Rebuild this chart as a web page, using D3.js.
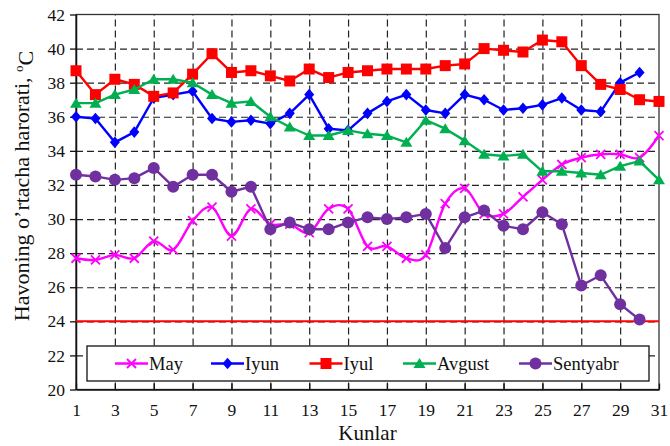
<!DOCTYPE html>
<html>
<head>
<meta charset="utf-8">
<script src="https://cdn.jsdelivr.net/npm/d3@7"></script>
<style>
  body { margin: 0; background: #fff; }
  svg { display: block; font-family: "Liberation Serif", "DejaVu Serif", serif; }
</style>
</head>
<body>
<svg id="chart" width="670" height="446"></svg>
<script>
// Daily mean air temperature by month (°C), day of month 1..31
const xTicks = [1, 3, 5, 7, 9, 11, 13, 15, 17, 19, 21, 23, 25, 27, 29, 31];
const yTicks = [20, 22, 24, 26, 28, 30, 32, 34, 36, 38, 40, 42];

const may = [27.7, 27.6, 27.9, 27.7, 28.7, 28.2, 29.9, 30.7, 29.0, 30.6,
             29.7, 29.7, 29.2, 30.6, 30.6, 28.4, 28.4, 27.7, 27.9, 30.9,
             31.8, 30.3, 30.3, 31.3, 32.3, 33.2, 33.6, 33.8, 33.8, 33.6, 34.9];
const iyun = [36.0, 35.9, 34.5, 35.1, 37.1, 37.3, 37.5, 35.9, 35.7, 35.8,
              35.6, 36.2, 37.3, 35.3, 35.2, 36.2, 36.9, 37.3, 36.4, 36.2,
              37.3, 37.0, 36.4, 36.5, 36.7, 37.1, 36.4, 36.3, 38.0, 38.6];
const iyul = [38.7, 37.3, 38.2, 37.9, 37.2, 37.4, 38.5, 39.7, 38.6, 38.7,
              38.4, 38.1, 38.8, 38.3, 38.6, 38.7, 38.8, 38.8, 38.8, 39.0,
              39.1, 40.0, 39.9, 39.8, 40.5, 40.4, 39.0, 37.9, 37.6, 37.0, 36.9];
const avgust = [36.8, 36.8, 37.3, 37.6, 38.2, 38.2, 38.0, 37.3, 36.8, 36.9,
                36.0, 35.4, 34.9, 34.9, 35.2, 35.0, 34.9, 34.5, 35.8, 35.3,
                34.6, 33.8, 33.7, 33.8, 32.8, 32.8, 32.7, 32.6, 33.1, 33.4, 32.3];
const sentyabr = [32.6, 32.5, 32.3, 32.4, 33.0, 31.9, 32.6, 32.6, 31.6, 31.9,
                  29.4, 29.8, 29.4, 29.4, 29.8, 30.1, 30.0, 30.1, 30.3, 28.3,
                  30.1, 30.5, 29.6, 29.4, 30.4, 29.7, 26.1, 26.7, 25.0, 24.1];
const threshold = 24;

const seriesNames = ["May", "Iyun", "Iyul", "Avgust", "Sentyabr"];

const series = [
  { name: seriesNames[0], values: may,      color: "#FF00FF", marker: "x",        smooth: true },
  { name: seriesNames[1], values: iyun,     color: "#0000FF", marker: "diamond",  smooth: false },
  { name: seriesNames[2], values: iyul,     color: "#FF0000", marker: "square",   smooth: false },
  { name: seriesNames[3], values: avgust,   color: "#00B050", marker: "triangle", smooth: false },
  { name: seriesNames[4], values: sentyabr, color: "#7030A0", marker: "circle",   smooth: false }
];

const W = 670, H = 446;
const margin = { top: 14.5, right: 11, bottom: 56.5, left: 76 };
const x0 = margin.left, x1 = W - margin.right;
const y0 = H - margin.bottom, y1 = margin.top;

const x = d3.scaleLinear().domain([1, 31]).range([x0, x1]);
const y = d3.scaleLinear().domain([20, 42]).range([y0, y1]);

const svg = d3.select("#chart");

// dashed grid
const grid = svg.append("g").attr("class", "grid");
grid.append("g")
  .attr("transform", `translate(0,${y0})`)
  .call(d3.axisBottom(x).tickValues(xTicks.slice(1, -1)).tickSize(-(y0 - y1)).tickFormat(""))
  .call(g => g.select(".domain").remove());
grid.append("g")
  .attr("transform", `translate(${x0},0)`)
  .call(d3.axisLeft(y).tickValues(yTicks.slice(1, -1)).tickSize(-(x1 - x0)).tickFormat(""))
  .call(g => g.select(".domain").remove());
grid.selectAll("line")
  .attr("stroke", "#222")
  .attr("stroke-width", 1.2)
  .attr("stroke-dasharray", "7,4");

// plot frame
svg.append("rect")
  .attr("x", x0).attr("y", y1)
  .attr("width", x1 - x0).attr("height", y0 - y1)
  .attr("fill", "none").attr("stroke", "#333").attr("stroke-width", 1.3);

// axes
const yAxis = svg.append("g")
  .attr("transform", `translate(${x0},0)`)
  .call(d3.axisLeft(y).tickValues(yTicks).tickSizeInner(6).tickSizeOuter(0).tickPadding(5));
const xAxis = svg.append("g")
  .attr("transform", `translate(0,${y0})`)
  .call(d3.axisBottom(x).tickValues(xTicks).tickSizeInner(-6).tickSizeOuter(0).tickPadding(14));
[yAxis, xAxis].forEach(a => {
  a.select(".domain").attr("stroke", "#111").attr("stroke-width", 1.5);
  a.selectAll(".tick line").attr("stroke", "#111").attr("stroke-width", 1.3);
  a.selectAll(".tick text")
    .attr("fill", "#111")
    .style("font-family", "'Liberation Serif', serif")
    .style("font-size", "17.5px");
});

// threshold line
svg.append("line")
  .attr("x1", x(1)).attr("x2", x(31))
  .attr("y1", y(threshold)).attr("y2", y(threshold))
  .attr("stroke", "#FF0000").attr("stroke-width", 2);

// marker shapes
function drawMarker(sel, type, color) {
  if (type === "circle") {
    sel.append("circle").attr("r", 6).attr("fill", color);
  } else if (type === "x") {
    sel.append("path").attr("d", "M-4.5,-4.5L4.5,4.5M-4.5,4.5L4.5,-4.5")
      .attr("stroke", color).attr("stroke-width", 1.8).attr("fill", "none");
  } else {
    const d = {
      diamond: "M0,-5.8L5,0L0,5.8L-5,0Z",
      square: "M-5.5,-5.5h11v11h-11Z",
      triangle: "M0,-5.5L6,4.5L-6,4.5Z"
    }[type];
    sel.append("path").attr("d", d).attr("fill", color);
  }
}

// series lines and markers
series.forEach(s => {
  const pts = s.values.map((v, i) => ({ day: i + 1, v }));
  const line = d3.line()
    .x(d => x(d.day)).y(d => y(d.v))
    .curve(s.smooth ? d3.curveCardinal.tension(0) : d3.curveLinear);
  const g = svg.append("g").attr("class", "series");
  g.append("path")
    .datum(pts)
    .attr("d", line)
    .attr("fill", "none")
    .attr("stroke", s.color)
    .attr("stroke-width", 2.4)
    .attr("stroke-linejoin", "round");
  g.selectAll("g.pt")
    .data(pts)
    .join("g")
    .attr("class", "pt")
    .attr("transform", d => `translate(${x(d.day)},${y(d.v)})`)
    .each(function () { drawMarker(d3.select(this), s.marker, s.color); });
});

// legend
const legendX = [115, 211, 309.5, 403, 519];
const legend = svg.append("g").attr("class", "legend");
legend.append("rect")
  .attr("x", 87).attr("y", 346)
  .attr("width", 562).attr("height", 35)
  .attr("fill", "#fff").attr("stroke", "#111").attr("stroke-width", 1.3);
series.forEach((s, i) => {
  const g = legend.append("g").attr("transform", `translate(${legendX[i]},363.5)`);
  g.append("line").attr("x1", 0).attr("x2", 33)
    .attr("stroke", s.color).attr("stroke-width", 2.4);
  const m = g.append("g").attr("transform", "translate(16.5,0)");
  drawMarker(m, s.marker, s.color);
  g.append("text")
    .attr("x", 34).attr("y", 0).attr("dy", "0.35em")
    .attr("fill", "#111")
    .style("font-size", "18.5px")
    .text(s.name);
});

// axis titles
svg.append("text")
  .attr("x", (x0 + x1) / 2).attr("y", 440)
  .attr("text-anchor", "middle")
  .attr("fill", "#111")
  .style("font-size", "21px")
  .text("Kunlar");

const yTitle = svg.append("text")
  .attr("transform", `translate(29,186) rotate(-90)`)
  .attr("text-anchor", "middle")
  .attr("fill", "#111")
  .style("font-size", "22px");
yTitle.append("tspan").text("Havoning o’rtacha harorati, ");
yTitle.append("tspan").attr("dy", "-0.45em").style("font-size", "13px").text("o");
yTitle.append("tspan").attr("dy", "0.45em").text("C");
</script>
</body>
</html>
